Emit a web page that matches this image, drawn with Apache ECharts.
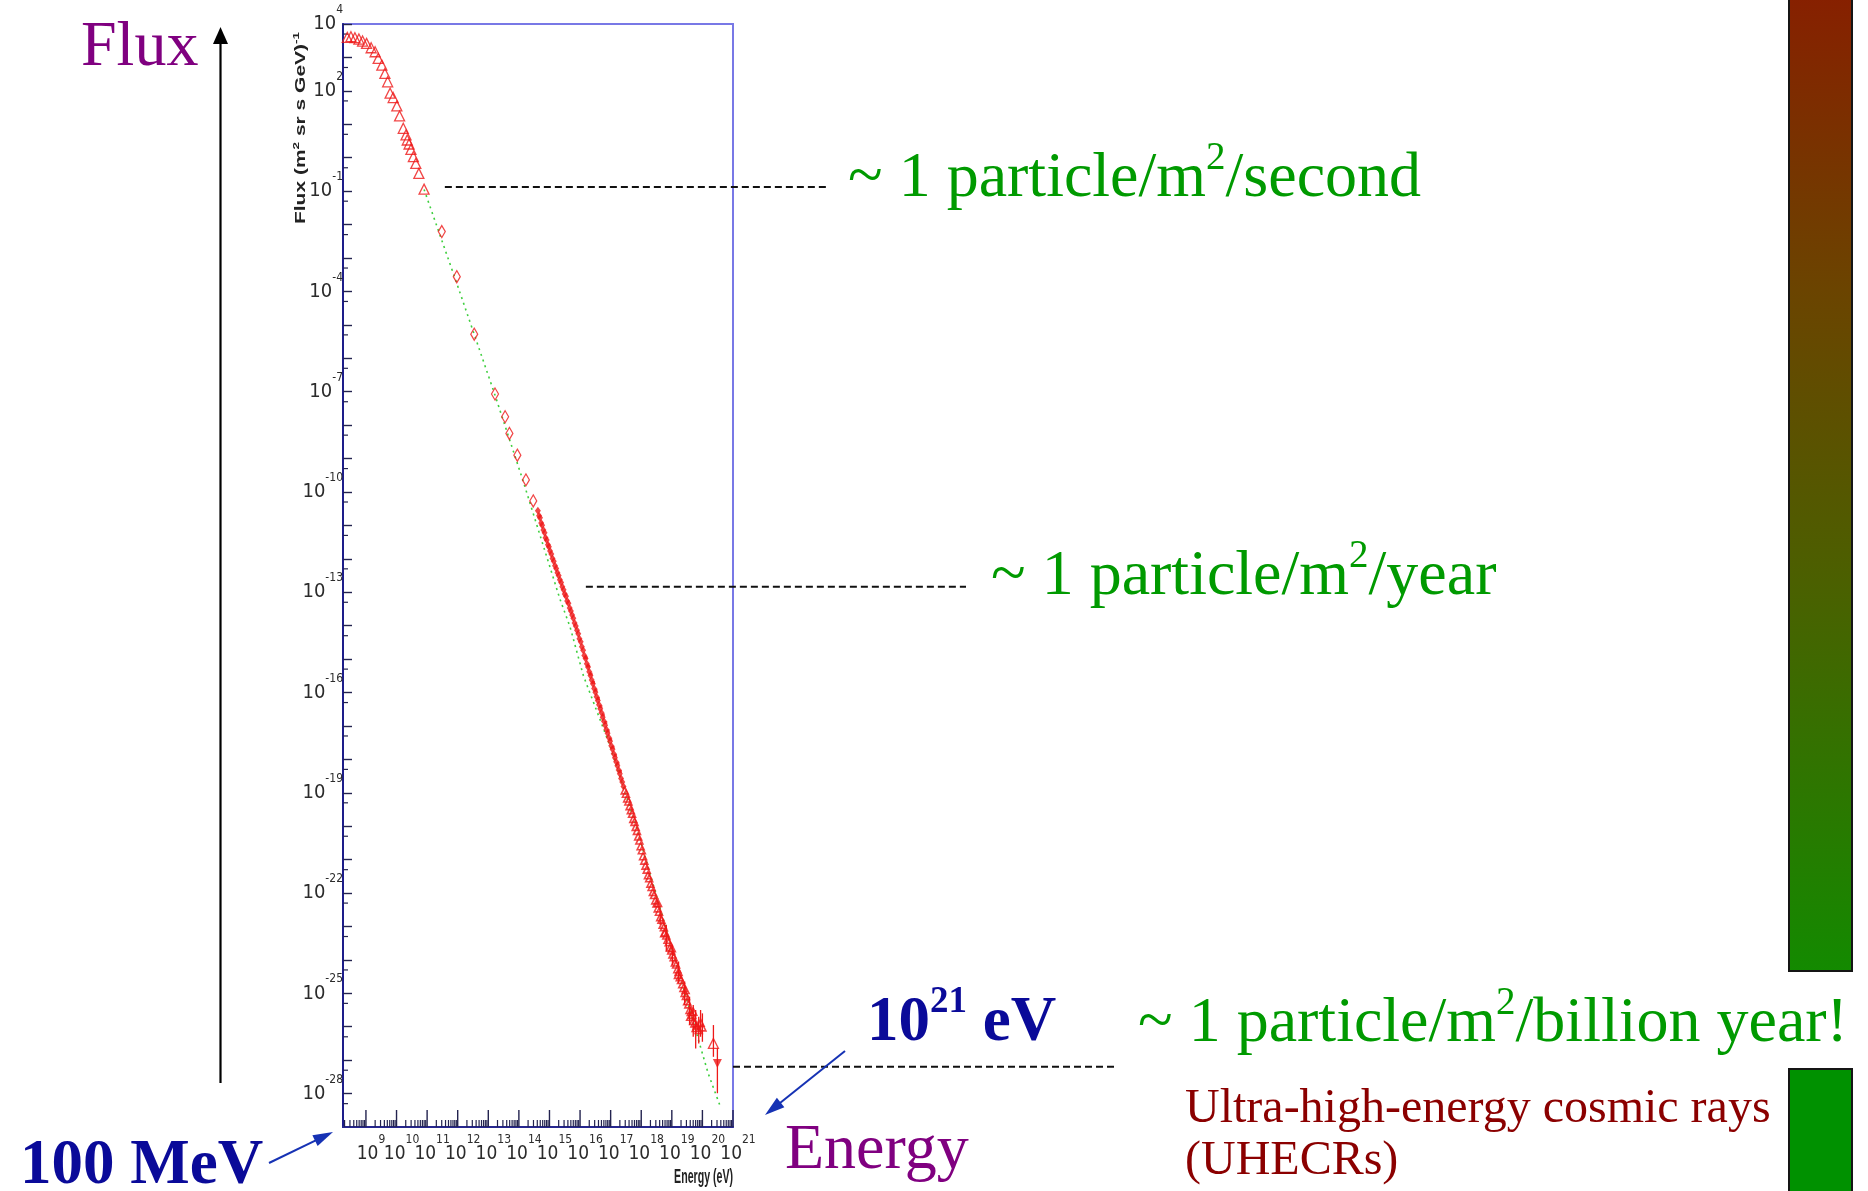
<!DOCTYPE html>
<html>
<head>
<meta charset="utf-8">
<script src="https://cdn.jsdelivr.net/npm/echarts@6/dist/echarts.min.js"></script>
<style>
  html, body { margin: 0; padding: 0; background: #ffffff; }
  #chart { width: 1868px; height: 1191px; }
</style>
</head>
<body>
<div id="chart"></div>
<script>
// All measurements are kept as [log10(E / eV), log10(flux)] pairs.
const xRangeLog = [8.25, 21];
const yRangeLog = [-29, 4];
const xTickExponents = [9, 10, 11, 12, 13, 14, 15, 16, 17, 18, 19, 20, 21];
const yLabelExponents = [4, 2, -1, -4, -7, -10, -13, -16, -19, -22, -25, -28];
const minorTickFactorsX = [2, 3, 4, 5, 6, 7, 8, 9];
const minorTickFactorsY = [5];

// Direct (balloon / satellite) measurements
const lowEnergyTriangles = [
  [8.39, 3.60], [8.51, 3.62], [8.64, 3.59], [8.77, 3.55], [8.89, 3.49], [9.02, 3.42],
  [9.17, 3.29], [9.30, 3.17], [9.40, 2.97], [9.52, 2.77], [9.62, 2.52], [9.71, 2.27],
  [9.79, 1.93], [9.89, 1.80], [10.01, 1.55], [10.10, 1.25], [10.22, 0.88], [10.31, 0.68],
  [10.35, 0.53], [10.41, 0.41], [10.47, 0.25], [10.55, 0.03], [10.63, -0.17], [10.73, -0.47],
  [10.90, -0.94]
];
const midEnergyDiamonds = [
  [11.48, -2.21], [11.97, -3.56], [12.54, -5.28], [13.22, -7.07], [13.55, -7.75],
  [13.69, -8.25], [13.95, -8.90], [14.23, -9.64], [14.47, -10.27]
];
// Air-shower arrays around the knee
const kneePoints = [
  [14.62, -10.56], [14.66, -10.71], [14.69, -10.77], [14.73, -10.93], [14.76, -11.00], [14.80, -11.14],
  [14.84, -11.22], [14.87, -11.37], [14.91, -11.44], [14.95, -11.58], [14.98, -11.64], [15.02, -11.77],
  [15.06, -11.86], [15.10, -11.99], [15.14, -12.07], [15.18, -12.21], [15.22, -12.29], [15.26, -12.42],
  [15.30, -12.50], [15.34, -12.63], [15.38, -12.71], [15.42, -12.84], [15.46, -12.93], [15.50, -13.05],
  [15.54, -13.12], [15.58, -13.26], [15.62, -13.33], [15.66, -13.47], [15.70, -13.56], [15.74, -13.68],
  [15.78, -13.78], [15.82, -13.92], [15.86, -14.01], [15.90, -14.14], [15.94, -14.24], [15.98, -14.39],
  [16.02, -14.48], [16.06, -14.63], [16.10, -14.74], [16.14, -14.89], [16.18, -14.98], [16.22, -15.14],
  [16.26, -15.24], [16.30, -15.38], [16.34, -15.49], [16.38, -15.63], [16.42, -15.74], [16.46, -15.88],
  [16.50, -15.99], [16.54, -16.13], [16.58, -16.24], [16.62, -16.37], [16.66, -16.49], [16.70, -16.61],
  [16.74, -16.74], [16.78, -16.86], [16.82, -16.98], [16.86, -17.11], [16.90, -17.22], [16.94, -17.35],
  [16.98, -17.46], [17.02, -17.59], [17.06, -17.70], [17.10, -17.83], [17.14, -17.95], [17.18, -18.07],
  [17.22, -18.19], [17.26, -18.32], [17.30, -18.43], [17.34, -18.57], [17.38, -18.68], [17.42, -18.81]
];
const kneeSecondTrack = [
  [16.20, -14.96], [16.28, -15.21], [16.36, -15.45], [16.44, -15.70], [16.52, -15.93], [16.60, -16.18],
  [16.68, -16.42], [16.76, -16.67], [16.84, -16.90], [16.92, -17.15], [17.00, -17.40], [17.08, -17.64],
  [17.16, -17.88], [17.24, -18.12], [17.32, -18.36]
];
// Ankle and highest-energy region
const anklePoints = [
  [17.46, -18.93], [17.50, -19.03], [17.54, -19.17], [17.58, -19.26], [17.62, -19.40], [17.66, -19.52],
  [17.70, -19.63], [17.74, -19.78], [17.78, -19.87], [17.82, -20.02], [17.86, -20.14], [17.90, -20.31],
  [17.94, -20.43], [17.98, -20.60], [18.02, -20.72], [18.06, -20.90], [18.10, -21.03], [18.14, -21.18],
  [18.18, -21.30], [18.22, -21.47], [18.26, -21.56], [18.30, -21.72], [18.34, -21.82], [18.38, -21.97],
  [18.42, -22.06], [18.46, -22.22], [18.50, -22.31], [18.54, -22.46], [18.58, -22.56], [18.62, -22.72],
  [18.66, -22.80], [18.70, -22.95], [18.74, -23.02], [18.78, -23.18], [18.82, -23.27], [18.86, -23.40],
  [18.90, -23.47], [18.94, -23.63], [18.98, -23.72], [19.02, -23.84], [19.06, -23.92], [19.10, -24.08],
  [19.14, -24.14], [19.18, -24.28], [19.22, -24.36], [19.26, -24.52], [19.30, -24.60], [19.34, -24.73],
  [19.38, -24.84], [19.42, -24.99], [19.46, -25.08], [19.50, -25.24], [19.54, -25.33], [19.58, -25.50],
  [19.62, -25.56], [19.66, -25.64], [19.70, -25.83], [19.74, -25.90], [19.78, -26.04], [19.82, -25.96],
  [19.88, -26.10], [19.94, -25.88], [20.00, -26.02],
  [18.55, -22.30], [18.75, -23.20], [19.00, -23.65], [19.20, -24.45], [19.45, -24.90], [19.60, -25.70],
  [19.70, -25.55]
];
// [log10 E, lower, upper]
const errorBarsLog = [
  [18.62, -22.95, -22.50], [18.82, -23.75, -22.95], [19.02, -24.15, -23.55], [19.22, -24.70, -24.05],
  [19.42, -25.35, -24.65], [19.58, -25.95, -25.10], [19.70, -26.30, -25.35], [19.78, -26.65, -25.50],
  [19.88, -26.50, -25.70], [19.94, -26.30, -25.50], [20.00, -26.45, -25.60], [20.36, -26.90, -25.95],
  [20.49, -27.99, -26.64]
];
const lastTriangle = [[20.36, -26.50]];
const upperLimit = [[20.49, -27.10]];
const powerLawFit = [
  [10.90, -0.95], [11.97, -3.76], [13.20, -7.05], [14.13, -9.65], [15.34, -13.20], [15.67, -14.03],
  [16.11, -15.50], [16.98, -17.60], [17.85, -20.05], [19.27, -24.50], [20.19, -27.40], [20.57, -28.35]
];
// Rate guide lines: flux level and the energy where each line begins
const rateFluxLog = [-0.88, -12.84, -27.2];
const rateStartEnergyLog = [11.58, 16.19, 21];
const rateLabels = ['second', 'year', 'billion year!'];

const RED = '#ee1818';
const SERIF = '"Liberation Serif", "Times New Roman", serif';
const NARROW = '"Liberation Sans Narrow", "Arial Narrow", "DejaVu Sans Condensed", sans-serif';
const SANS = '"Liberation Sans", Arial, sans-serif';
const GREEN = '#009a00';
const PURPLE = '#800080';
const NAVY = '#0a0a99';
const TICK = '#23234f';
const LABEL = '#2b2b2b';

const toValue = ([e, f]) => [Math.pow(10, e), Math.pow(10, f)];
const exponentOf = (v) => {
  const l = Math.log10(v);
  const r = Math.round(l);
  return Math.abs(l - r) < 1e-6 ? r : null;
};

// power-of-ten tick labels: "10" with a raised exponent
function makeTickRich(baseSize, supSize) {
  return {
    b: { fontFamily: NARROW, fontSize: baseSize, lineHeight: 40, color: LABEL, fill: LABEL },
    s: { fontFamily: NARROW, fontSize: supSize, lineHeight: 16, verticalAlign: 'top', color: LABEL, fill: LABEL }
  };
}
const yTickRich = makeTickRich(20, 12);
const xTickRich = makeTickRich(19, 12);
const powerLabel = n => '{b|10}{s|' + n + '}';

const minorTicksX = [];
for (let n = Math.floor(xRangeLog[0]); n < xRangeLog[1]; n++) {
  minorTickFactorsX.forEach(k => {
    const v = k * Math.pow(10, n);
    if (Math.log10(v) > xRangeLog[0]) minorTicksX.push([v, Math.pow(10, yRangeLog[0])]);
  });
}
const minorTicksY = [];
for (let n = yRangeLog[0]; n < yRangeLog[1]; n++) {
  minorTickFactorsY.forEach(k => minorTicksY.push([Math.pow(10, xRangeLog[0]), k * Math.pow(10, n)]));
}
const majorTicksX = xTickExponents.map(n => [Math.pow(10, n), Math.pow(10, yRangeLog[0]), n]);

const openStyle = { color: 'rgba(0,0,0,0)', borderColor: RED, borderWidth: 1.3 };

const chart = echarts.init(document.getElementById('chart'), null, { renderer: 'canvas' });

const option = {
  backgroundColor: '#ffffff',
  animation: false,
  grid: {
    left: 343, top: 24, width: 390, height: 1103,
    show: true, borderColor: '#7878e6', borderWidth: 2, backgroundColor: 'rgba(0,0,0,0)',
    containLabel: false, outerBoundsMode: 'none'
  },
  xAxis: {
    type: 'log', logBase: 10,
    min: Math.pow(10, xRangeLog[0]), max: Math.pow(10, xRangeLog[1]),
    splitLine: { show: false },
    axisLine: { show: true, lineStyle: { color: '#26268f', width: 2 } },
    axisTick: { show: false },
    axisLabel: { show: false }
  },
  yAxis: {
    type: 'log', logBase: 10,
    min: Math.pow(10, yRangeLog[0]), max: Math.pow(10, yRangeLog[1]),
    interval: 1,
    splitLine: { show: false },
    axisLine: { show: true, lineStyle: { color: '#1d1d8a', width: 2 } },
    axisTick: { show: true, inside: true, length: 9, lineStyle: { color: TICK, width: 1.4 } },
    axisLabel: {
      margin: 0, rich: yTickRich,
      showMinLabel: true, showMaxLabel: true, hideOverlap: false,
      formatter: v => { const n = exponentOf(v); return (n !== null && yLabelExponents.includes(n)) ? powerLabel(n) : ''; }
    }
  },
  series: [
    {
      // decade ticks and labels along the energy axis
      type: 'custom', name: 'energy decades', silent: true, clip: false,
      data: majorTicksX,
      renderItem: (params, api) => {
        const p = api.coord([api.value(0), api.value(1)]);
        return {
          type: 'group',
          children: [
            { type: 'line', shape: { x1: p[0], y1: p[1], x2: p[0], y2: p[1] - 17 }, style: { stroke: TICK, lineWidth: 1.4 } },
            {
              type: 'text', x: p[0] + 5, y: p[1] + 7,
              style: { text: powerLabel(api.value(2)), align: 'center', verticalAlign: 'top', fill: LABEL, rich: xTickRich }
            }
          ]
        };
      }
    },
    {
      type: 'custom', name: 'minor ticks x', silent: true, clip: false,
      data: minorTicksX,
      renderItem: (params, api) => {
        const p = api.coord([api.value(0), api.value(1)]);
        return { type: 'line', shape: { x1: p[0], y1: p[1], x2: p[0], y2: p[1] - 7 }, style: { stroke: TICK, lineWidth: 1.2 } };
      }
    },
    {
      type: 'custom', name: 'minor ticks y', silent: true, clip: false,
      data: minorTicksY,
      renderItem: (params, api) => {
        const p = api.coord([api.value(0), api.value(1)]);
        return { type: 'line', shape: { x1: p[0], y1: p[1], x2: p[0] + 5, y2: p[1] }, style: { stroke: TICK, lineWidth: 1.2 } };
      }
    },
    {
      type: 'line', name: 'power-law fit', data: powerLawFit.map(toValue),
      symbol: 'none', smooth: false, z: 1,
      lineStyle: { color: '#3fcf3f', width: 1.6, type: [2, 4] }
    },
    {
      type: 'scatter', name: 'direct', data: lowEnergyTriangles.map(toValue),
      symbol: 'triangle', symbolSize: 10, itemStyle: openStyle
    },
    {
      type: 'scatter', name: 'mid', data: midEnergyDiamonds.map(toValue),
      symbol: 'diamond', symbolSize: [7, 12], itemStyle: openStyle
    },
    {
      type: 'scatter', name: 'knee', data: kneePoints.map(toValue),
      symbol: 'diamond', symbolSize: [6, 8], itemStyle: { color: RED }
    },
    {
      type: 'scatter', name: 'knee 2', data: kneeSecondTrack.map(toValue),
      symbol: 'rect', symbolSize: 3, itemStyle: { color: RED }
    },
    {
      type: 'custom', name: 'errors', clip: false,
      data: errorBarsLog.map(([e, lo, hi]) => [Math.pow(10, e), Math.pow(10, lo), Math.pow(10, hi)]),
      encode: { x: 0, y: [1, 2] },
      renderItem: (params, api) => {
        const a = api.coord([api.value(0), api.value(1)]);
        const b = api.coord([api.value(0), api.value(2)]);
        return { type: 'line', shape: { x1: a[0], y1: a[1], x2: b[0], y2: b[1] }, style: { stroke: RED, lineWidth: 1.3 } };
      }
    },
    {
      type: 'scatter', name: 'ankle', data: anklePoints.map(toValue),
      symbol: 'triangle', symbolSize: 7, itemStyle: { color: 'rgba(0,0,0,0)', borderColor: RED, borderWidth: 1.6 }
    },
    {
      type: 'scatter', name: 'last', data: lastTriangle.map(toValue),
      symbol: 'triangle', symbolSize: 10, itemStyle: openStyle
    },
    {
      type: 'scatter', name: 'limit', data: upperLimit.map(toValue),
      symbol: 'triangle', symbolRotate: 180, symbolSize: 9, itemStyle: { color: RED }
    }
  ]
};

chart.setOption(option);

// ---------- annotations ----------
function arrow(x1, y1, x2, y2, color, width, headLen, headHalf) {
  const dx = x2 - x1, dy = y2 - y1, len = Math.hypot(dx, dy);
  const ux = dx / len, uy = dy / len;
  const bx = x2 - ux * headLen, by = y2 - uy * headLen;
  return [
    { type: 'line', shape: { x1, y1, x2: bx + ux * 2, y2: by + uy * 2 }, style: { stroke: color, lineWidth: width }, z: 20 },
    { type: 'polygon', shape: { points: [[x2, y2], [bx - uy * headHalf, by + ux * headHalf], [bx + uy * headHalf, by - ux * headHalf]] }, style: { fill: color }, z: 20 }
  ];
}

function supText(x, baseline, base, sup, after, opt) {
  const size = opt.size, supSize = opt.supSize, weight = opt.weight || 'normal';
  const L = 80, h = L - 2 * opt.raise;
  return {
    type: 'text', x: x, y: baseline - 0.3375 * size, z: 20,
    style: {
      text: base + '{s|' + sup + '}' + after,
      fontFamily: SERIF, fontSize: size, fontWeight: weight, fill: opt.color,
      lineHeight: L, align: 'left', verticalAlign: 'middle',
      rich: { s: { fontFamily: SERIF, fontSize: supSize, fontWeight: weight, fill: opt.color, lineHeight: h, verticalAlign: 'top' } }
    }
  };
}

function plainText(x, baseline, text, size, color, weight) {
  return {
    type: 'text', x: x, y: baseline - 0.3375 * size, z: 20,
    style: { text, fontFamily: SERIF, fontSize: size, fontWeight: weight || 'normal', fill: color, align: 'left', verticalAlign: 'middle' }
  };
}

const rateEndX = [826, 966, 1114];
const rateTextPos = [[848, 201], [991, 599], [1138, 1046]];

const graphics = [];

// rate guide lines and their captions
rateFluxLog.forEach((f, i) => {
  const start = chart.convertToPixel({ gridIndex: 0 }, [Math.pow(10, rateStartEnergyLog[i]), Math.pow(10, f)]);
  graphics.push({
    type: 'line', z: 15,
    shape: { x1: start[0], y1: start[1], x2: rateEndX[i], y2: start[1] },
    style: { stroke: '#111111', lineWidth: 2, lineDash: [7, 4] }
  });
  graphics.push(supText(rateTextPos[i][0], rateTextPos[i][1], '~ 1 particle/m', '2', '/' + rateLabels[i],
    { size: 64, supSize: 39, raise: 12.5, color: GREEN }));
});

// axis titles drawn inside the plot frame
graphics.push({
  type: 'text', x: 301, y: 128, rotation: Math.PI / 2, scaleX: 1.5, z: 20,
  style: {
    text: 'Flux (m{s|2} sr s GeV){s|-1}', fontFamily: SANS, fontSize: 14, fontWeight: 'bold', fill: '#222222',
    lineHeight: 18, align: 'center', verticalAlign: 'middle',
    rich: { s: { fontFamily: SANS, fontSize: 9, fontWeight: 'bold', fill: '#222222', lineHeight: 10, verticalAlign: 'top' } }
  }
});
graphics.push({
  type: 'text', x: 733, y: 1177, scaleX: 0.53, z: 20,
  style: { text: 'Energy (eV)', fontFamily: SANS, fontSize: 20, fontWeight: 'bold', fill: '#222222', align: 'right', verticalAlign: 'middle' }
});

// big flux arrow and labels
graphics.push({ type: 'line', shape: { x1: 220.5, y1: 1083, x2: 220.5, y2: 42 }, style: { stroke: '#000000', lineWidth: 2.2 }, z: 20 });
graphics.push({ type: 'polygon', shape: { points: [[220.5, 27], [213, 44], [228, 44]] }, style: { fill: '#000000' }, z: 20 });
graphics.push(plainText(81, 70, 'Flux', 64, PURPLE));
graphics.push(plainText(785, 1173, 'Energy', 64, PURPLE));
graphics.push(plainText(20, 1188, '100 MeV', 63, NAVY, 'bold'));
graphics.push(supText(867, 1045, '10', '21', ' eV', { size: 63, supSize: 37, raise: 12.5, color: NAVY, weight: 'bold' }));
graphics.push(...arrow(269, 1163, 333, 1132, '#1632b4', 2, 20, 6));
graphics.push(...arrow(845, 1051, 765, 1115, '#1632b4', 2, 20, 6));

// UHECR caption
graphics.push(plainText(1185, 1126, 'Ultra-high-energy cosmic rays', 48, '#8b0000'));
graphics.push(plainText(1185, 1178, '(UHECRs)', 48, '#8b0000'));

// energy colour bar on the right
graphics.push({
  type: 'rect', z: 5,
  shape: { x: 1789, y: -2, width: 63, height: 973 },
  style: {
    fill: { type: 'linear', x: 0, y: 0, x2: 0, y2: 1, colorStops: [
      { offset: 0, color: '#872000' }, { offset: 0.3, color: '#6b4400' },
      { offset: 0.6, color: '#4b6000' }, { offset: 1, color: '#138a00' }
    ] },
    stroke: '#151515', lineWidth: 2
  }
});
graphics.push({
  type: 'rect', z: 5,
  shape: { x: 1789, y: 1069, width: 63, height: 126 },
  style: { fill: '#009100', stroke: '#151515', lineWidth: 2 }
});

chart.setOption({ graphic: graphics });
</script>
</body>
</html>
